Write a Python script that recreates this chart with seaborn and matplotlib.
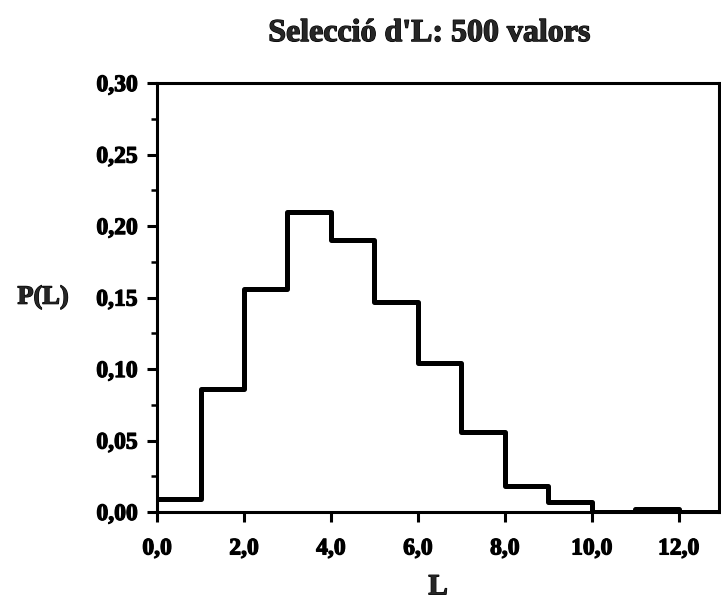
import matplotlib
matplotlib.use("Agg")
import matplotlib.pyplot as plt
import matplotlib.ticker as mticker
import matplotlib.patheffects as pe
import numpy as np
import seaborn as sns

# Data
bin_edges = [0, 1, 2, 3, 4, 5, 6, 7, 8, 9, 10, 11, 12, 13]
probabilities = [0.009, 0.086, 0.156, 0.210, 0.190, 0.147, 0.104, 0.056, 0.018, 0.007, 0.0, 0.002, 0.0]
x_ticks = [0, 2, 4, 6, 8, 10, 12]
y_ticks = [0.00, 0.05, 0.10, 0.15, 0.20, 0.25, 0.30]
title = "Selecció d'L: 500 valors"

sns.set_theme(style="ticks")
plt.rcParams['font.family'] = ['Liberation Serif', 'DejaVu Serif']
plt.rcParams['font.weight'] = 'bold'

heavy = [pe.withStroke(linewidth=0.9, foreground="black")]

fig = plt.figure(figsize=(7.21, 6.11), dpi=100)
ax = fig.add_axes([0.2178, 0.162, 0.7795, 0.702])

centers = [(bin_edges[i] + bin_edges[i + 1]) / 2 for i in range(len(probabilities))]
sns.histplot(x=centers, weights=probabilities, bins=bin_edges, element="step",
             fill=False, color="black", linewidth=3.6, ax=ax)

ax.set_xlim(0, 12.93)
ax.set_ylim(0, 0.30)
ax.set_xticks(x_ticks)
ax.set_yticks(y_ticks)
ax.yaxis.set_minor_locator(mticker.MultipleLocator(0.025))
ax.set_xticklabels([f"{v:.1f}".replace(".", ",") for v in x_ticks])
ax.set_yticklabels([f"{v:.2f}".replace(".", ",") for v in y_ticks])

for s in ax.spines.values():
    s.set_visible(True)
    s.set_linewidth(2.2)
    s.set_color("black")

ax.tick_params(axis="both", which="major", direction="out", length=7, width=2.2,
               labelsize=17, color="black", labelcolor="black")
ax.tick_params(axis="y", which="minor", direction="out", length=4, width=1.8, color="black")
ax.tick_params(axis="x", which="major", pad=12)
ax.tick_params(axis="y", which="major", pad=7)
for lab in ax.get_xticklabels() + ax.get_yticklabels():
    lab.set_fontweight("bold")
    lab.set_path_effects(heavy)

ax.set_xlabel("L", fontsize=21, fontweight="bold", labelpad=10, path_effects=heavy)
ax.set_ylabel("P(L)", fontsize=19, fontweight="bold", rotation=0, ha="right", va="center",
              path_effects=heavy)
ax.yaxis.set_label_coords(-0.157, 0.5)

fig.text(0.596, 0.945, title, ha="center", va="center", fontsize=23, fontweight="bold",
         path_effects=heavy)
ax.grid(False)

fig.savefig("out.png", dpi=100, facecolor="white")
